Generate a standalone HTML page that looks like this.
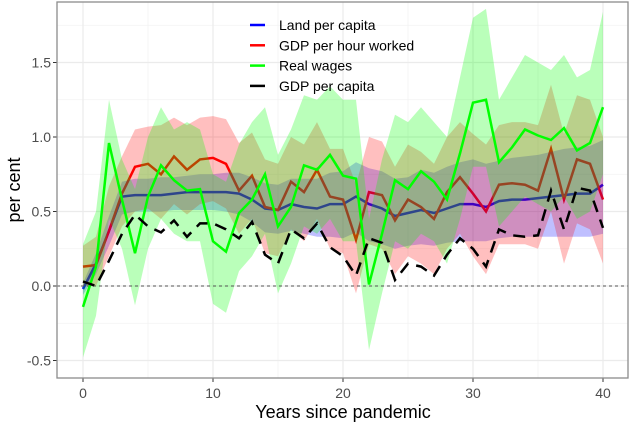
<!DOCTYPE html>
<html><head><meta charset="utf-8"><style>
body{margin:0;background:#fff;}
svg text{font-family:"Liberation Sans",Arial,sans-serif;}
</style></head><body>
<svg id="chart" width="629" height="424" viewBox="0 0 629 424"></svg>
<script>
const years=[];for(let i=0;i<=40;i++)years.push(i);
const landMean=[-0.02,0.15,0.37,0.6,0.61,0.61,0.61,0.62,0.63,0.63,0.63,0.63,0.62,0.58,0.52,0.51,0.55,0.53,0.52,0.55,0.55,0.6,0.55,0.52,0.47,0.49,0.51,0.49,0.52,0.55,0.55,0.53,0.57,0.58,0.58,0.59,0.6,0.61,0.62,0.62,0.68];
const landLo=[-0.06,0.08,0.27,0.48,0.5,0.5,0.5,0.51,0.51,0.51,0.51,0.5,0.48,0.43,0.36,0.35,0.37,0.35,0.33,0.33,0.32,0.36,0.3,0.28,0.25,0.27,0.28,0.27,0.29,0.3,0.3,0.3,0.32,0.33,0.33,0.33,0.33,0.33,0.33,0.33,0.35];
const landHi=[0.02,0.22,0.47,0.7,0.72,0.72,0.73,0.73,0.74,0.75,0.75,0.76,0.76,0.73,0.69,0.68,0.72,0.72,0.72,0.76,0.77,0.83,0.79,0.77,0.72,0.73,0.78,0.76,0.8,0.83,0.85,0.82,0.84,0.86,0.87,0.88,0.9,0.92,0.93,0.94,0.98];
const hourMean=[0.13,0.14,0.37,0.62,0.80,0.82,0.75,0.87,0.78,0.85,0.86,0.82,0.64,0.74,0.53,0.51,0.70,0.63,0.78,0.60,0.58,0.31,0.63,0.61,0.44,0.58,0.53,0.45,0.63,0.73,0.62,0.50,0.68,0.69,0.68,0.64,0.92,0.58,0.85,0.82,0.58];
const hourLo=[0.0,0.0,0.2,0.4,0.5,0.52,0.45,0.55,0.48,0.55,0.57,0.52,0.35,0.45,0.22,0.2,0.38,0.3,0.45,0.25,0.22,-0.05,0.28,0.25,0.08,0.2,0.15,0.08,0.25,0.35,0.2,0.08,0.28,0.28,0.28,0.25,0.5,0.15,0.42,0.38,0.15];
const hourHi=[0.27,0.33,0.67,0.87,1.05,1.07,1.08,1.13,1.08,1.13,1.14,1.12,0.96,1.03,0.85,0.82,1.0,0.95,1.1,0.92,0.92,0.68,1.0,0.97,0.8,0.95,0.9,0.82,1.0,1.1,1.02,0.95,1.08,1.1,1.1,1.08,1.35,1.02,1.28,1.25,1.0];
const wageMean=[-0.14,0.13,0.96,0.58,0.22,0.6,0.81,0.71,0.64,0.65,0.30,0.23,0.49,0.58,0.75,0.40,0.53,0.81,0.78,0.88,0.74,0.72,0.01,0.35,0.71,0.65,0.77,0.70,0.58,0.89,1.23,1.25,0.83,0.93,1.05,1.01,0.98,1.06,0.91,0.96,1.2];
const wageLo=[-0.48,-0.2,0.45,0.25,-0.13,0.25,0.45,0.35,0.3,0.3,-0.12,-0.18,0.1,0.2,0.35,-0.05,0.15,0.4,0.35,0.45,0.3,0.3,-0.43,-0.05,0.3,0.25,0.35,0.3,0.15,0.45,0.8,0.8,0.4,0.5,0.6,0.55,0.5,0.6,0.45,0.5,0.75];
const wageHi=[0.28,0.5,1.25,0.85,0.65,1.0,1.2,1.05,1.1,1.05,0.75,0.7,0.95,1.1,1.2,0.88,1.05,1.28,1.25,1.34,1.25,1.25,0.45,0.85,1.15,1.1,1.2,1.1,1.0,1.4,1.8,1.86,1.25,1.4,1.55,1.5,1.45,1.55,1.4,1.45,1.84];
const gdpMean=[0.03,0.0,0.17,0.35,0.48,0.4,0.36,0.44,0.33,0.42,0.42,0.38,0.32,0.43,0.21,0.15,0.38,0.32,0.42,0.26,0.2,0.07,0.32,0.29,0.04,0.15,0.13,0.07,0.21,0.32,0.25,0.13,0.38,0.34,0.33,0.34,0.64,0.38,0.66,0.64,0.39];
const yTicks=[-0.5,0.0,0.5,1.0,1.5];
const yTickLabels=["-0.5","0.0","0.5","1.0","1.5"];
const xTicks=[0,10,20,30,40];
const xTickLabels=["0","10","20","30","40"];

const NS="http://www.w3.org/2000/svg";
const svg=document.getElementById('chart');
const L=57,R=628,T=2,B=378;
const X=t=>83+13*t;
const Y=v=>286-149*v;
function mk(tag,attrs,parent){const e=document.createElementNS(NS,tag);for(const k in attrs)e.setAttribute(k,attrs[k]);(parent||svg).appendChild(e);return e;}

let e=mk('rect',{x:L,y:T,width:R-L,height:B-T,fill:'#fff'});


// minor grid
for(let t=5;t<=40;t+=10){e=mk('line',{x1:X(t),x2:X(t),y1:T,y2:B,stroke:'#f2f2f2','stroke-width':0.8});

}
for(let v=-0.25;v<=1.76;v+=0.5){e=mk('line',{x1:L,x2:R,y1:Y(v),y2:Y(v),stroke:'#f2f2f2','stroke-width':0.8});

}
xTicks.forEach((t,i)=>{e=mk('line',{x1:X(t),x2:X(t),y1:T,y2:B,stroke:'#ebebeb','stroke-width':1.2});


e=mk('line',{x1:X(t),x2:X(t),y1:B,y2:B+4,stroke:'#333','stroke-width':1});


e=mk('text',{x:X(t),y:398,'text-anchor':'middle','font-size':14,fill:'#4d4d4d'});e.textContent=xTickLabels[i];

});
yTicks.forEach((v,i)=>{e=mk('line',{x1:L,x2:R,y1:Y(v),y2:Y(v),stroke:'#ebebeb','stroke-width':1.2});


e=mk('line',{x1:L-4,x2:L,y1:Y(v),y2:Y(v),stroke:'#333','stroke-width':1});


e=mk('text',{x:L-6,y:Y(v)+5,'text-anchor':'end','font-size':14,fill:'#4d4d4d'});e.textContent=yTickLabels[i];

});

function linePath(arr){return arr.map((v,i)=>(i?'L':'M')+X(years[i]).toFixed(1)+','+Y(v).toFixed(1)).join('');}
function bandPath(lo,hi){let d=hi.map((v,i)=>(i?'L':'M')+X(years[i]).toFixed(1)+','+Y(v).toFixed(1)).join('');
for(let i=lo.length-1;i>=0;i--)d+='L'+X(years[i]).toFixed(1)+','+Y(lo[i]).toFixed(1);return d+'Z';}

e=mk('path',{d:linePath(landMean),fill:'none',stroke:'#0000ff','stroke-width':2.5});


e=mk('path',{d:linePath(hourMean),fill:'none',stroke:'#ff0000','stroke-width':2.5});


e=mk('path',{d:bandPath(landLo,landHi),fill:'#0000ff','fill-opacity':0.25});


e=mk('path',{d:bandPath(hourLo,hourHi),fill:'#ff0000','fill-opacity':0.25});


e=mk('path',{d:bandPath(wageLo,wageHi),fill:'#00ff00','fill-opacity':0.27});


e=mk('line',{x1:L,x2:R,y1:Y(0),y2:Y(0),stroke:'#555','stroke-width':1,'stroke-dasharray':'3,3'});


e=mk('path',{d:linePath(wageMean),fill:'none',stroke:'#00ff00','stroke-width':2.5});


e=mk('path',{d:linePath(gdpMean),fill:'none',stroke:'#000','stroke-width':2.5,'stroke-dasharray':'12,8'});



e=mk('rect',{x:L,y:T,width:R-L,height:B-T,fill:'none',stroke:'#8c8c8c','stroke-width':1.3});



e=mk('text',{x:343,y:418,'text-anchor':'middle','font-size':18,fill:'#000'});e.textContent='Years since pandemic';


e=mk('text',{x:20,y:190,'text-anchor':'middle','font-size':18,fill:'#000',transform:'rotate(-90 20 190)'});e.textContent='per cent';



const legNames=['Land per capita','GDP per hour worked','Real wages','GDP per capita'];
const legColors=['#0000ff','#ff0000','#00ff00','#000'];
const legG=mk('g',{});


legNames.forEach((n,i)=>{const y=25+20.3*i;
const g=mk('g',{},legG);


mk('line',{x1:250,x2:265,y1:y,y2:y,stroke:legColors[i],'stroke-width':2.5},g);
const t=mk('text',{x:279,y:y+5,'font-size':14,fill:'#000'},g);t.textContent=n;});
</script>
</body></html>
